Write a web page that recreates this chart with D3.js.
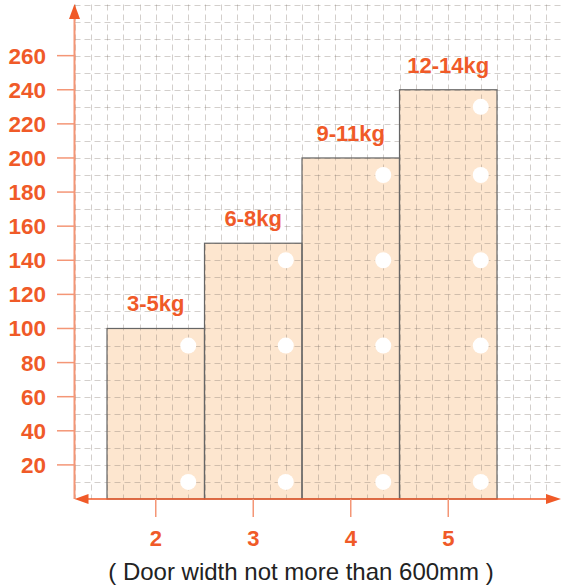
<!DOCTYPE html>
<html>
<head>
<meta charset="utf-8">
<script src="https://cdn.jsdelivr.net/npm/d3@7"></script>
<style>
  html, body { margin: 0; padding: 0; background: #fff; }
  svg { display: block; font-family: "Liberation Sans", Arial, sans-serif; }
</style>
</head>
<body>
<svg id="chart" width="561" height="588"></svg>
<script>
// ---- data ----
const categories = ["2", "3", "4", "5"];
const values = [100, 150, 200, 240];
const weightLabels = ["3-5kg", "6-8kg", "9-11kg", "12-14kg"];
const yTicks = [20, 40, 60, 80, 100, 120, 140, 160, 180, 200, 220, 240, 260];
const holeLevels = [
  [10, 90],
  [10, 90, 140],
  [10, 90, 140, 190],
  [10, 90, 140, 190, 230]
];
const xTitle = "( Door width not more than 600mm )";

// ---- layout ----
const svg = d3.select("#chart");
const orange = "#f05a28";
const axisLight = "#f49676";

const y = d3.scaleLinear().domain([0, 290]).range([499, 4.5]);
const x = d3.scaleBand().domain(categories).range([107, 497]).padding(0);
const xLin = d3.scaleLinear().domain([1.5, 5.5]).range([107, 497]);

// bars (under grid)
svg.append("g").selectAll("rect").data(values).join("rect")
  .attr("x", (d, i) => x(categories[i]))
  .attr("y", d => y(d))
  .attr("width", x.bandwidth())
  .attr("height", d => y(0) - y(d))
  .attr("fill", "#fde6cf");

// grid
const grid = svg.append("g")
  .attr("stroke", "rgba(120,110,100,0.33)")
  .attr("stroke-width", 1)
  .attr("stroke-dasharray", "6,4");
const gx = d3.range(7, 38).map(k => k / 6);
grid.selectAll(".v").data(gx).join("line")
  .attr("x1", d => Math.round(xLin(d)) + 0.5).attr("x2", d => Math.round(xLin(d)) + 0.5)
  .attr("y1", y(290)).attr("y2", y(0));
const gy = d3.range(10, 300, 10);
grid.selectAll(".h").data(gy).join("line")
  .attr("x1", xLin(7 / 6)).attr("x2", 561)
  .attr("y1", d => Math.round(y(d)) + 0.5).attr("y2", d => Math.round(y(d)) + 0.5);

// bar outlines
svg.append("g").selectAll("rect").data(values).join("rect")
  .attr("x", (d, i) => x(categories[i]))
  .attr("y", d => y(d))
  .attr("width", x.bandwidth())
  .attr("height", d => y(0) - y(d))
  .attr("fill", "none")
  .attr("stroke", "#666")
  .attr("stroke-width", 1.2);

// holes
const holes = [];
holeLevels.forEach((lv, i) => lv.forEach(v => holes.push({ c: categories[i], v })));
svg.append("g").selectAll("circle").data(holes).join("circle")
  .attr("cx", d => xLin(+d.c + 1 / 3))
  .attr("cy", d => y(d.v))
  .attr("r", 8)
  .attr("fill", "#fff");

// bar labels
svg.append("g").selectAll("text").data(weightLabels).join("text")
  .attr("x", (d, i) => x(categories[i]) + x.bandwidth() / 2)
  .attr("y", (d, i) => y(values[i]) - 17)
  .attr("text-anchor", "middle")
  .attr("font-size", 22)
  .attr("font-weight", "bold")
  .attr("fill", orange)
  .text(d => d);

// y axis
const x0 = xLin(7 / 6);
svg.append("line")
  .attr("x1", x0).attr("x2", x0)
  .attr("y1", 14).attr("y2", y(0))
  .attr("stroke", axisLight).attr("stroke-width", 2);
svg.append("path")
  .attr("d", `M${x0},4 L${x0 - 5.5},19 L${x0 + 5.5},19 Z`)
  .attr("fill", orange);
svg.append("g").selectAll("line").data(yTicks).join("line")
  .attr("x1", 57).attr("x2", x0)
  .attr("y1", d => y(d)).attr("y2", d => y(d))
  .attr("stroke", axisLight).attr("stroke-width", 1.5);
svg.append("g").selectAll("text").data(yTicks).join("text")
  .attr("x", 46)
  .attr("y", d => y(d) + 8)
  .attr("text-anchor", "end")
  .attr("font-size", 22.5)
  .attr("font-weight", "bold")
  .attr("fill", orange)
  .text(d => d);

// x axis
svg.append("line")
  .attr("x1", x0 + 4).attr("x2", 550)
  .attr("y1", y(0)).attr("y2", y(0))
  .attr("stroke", orange).attr("stroke-width", 1.5);
svg.append("path")
  .attr("d", `M561,${y(0)} L546,${y(0) - 5} L546,${y(0) + 5} Z`)
  .attr("fill", orange);
svg.append("path")
  .attr("d", `M${x0},${y(0)} L${x0 + 14},${y(0) - 5} L${x0 + 14},${y(0) + 5} Z`)
  .attr("fill", orange);
svg.append("g").selectAll("line").data(categories).join("line")
  .attr("x1", d => x(d) + x.bandwidth() / 2).attr("x2", d => x(d) + x.bandwidth() / 2)
  .attr("y1", y(0)).attr("y2", y(0) + 18)
  .attr("stroke", axisLight).attr("stroke-width", 1.5);
svg.append("g").selectAll("text").data(categories).join("text")
  .attr("x", d => x(d) + x.bandwidth() / 2)
  .attr("y", 546)
  .attr("text-anchor", "middle")
  .attr("font-size", 22)
  .attr("font-weight", "bold")
  .attr("fill", orange)
  .text(d => d);

svg.append("text")
  .attr("x", 301).attr("y", 580)
  .attr("text-anchor", "middle")
  .attr("font-size", 24)
  .attr("fill", "#222")
  .text(xTitle);
</script>
</body>
</html>
